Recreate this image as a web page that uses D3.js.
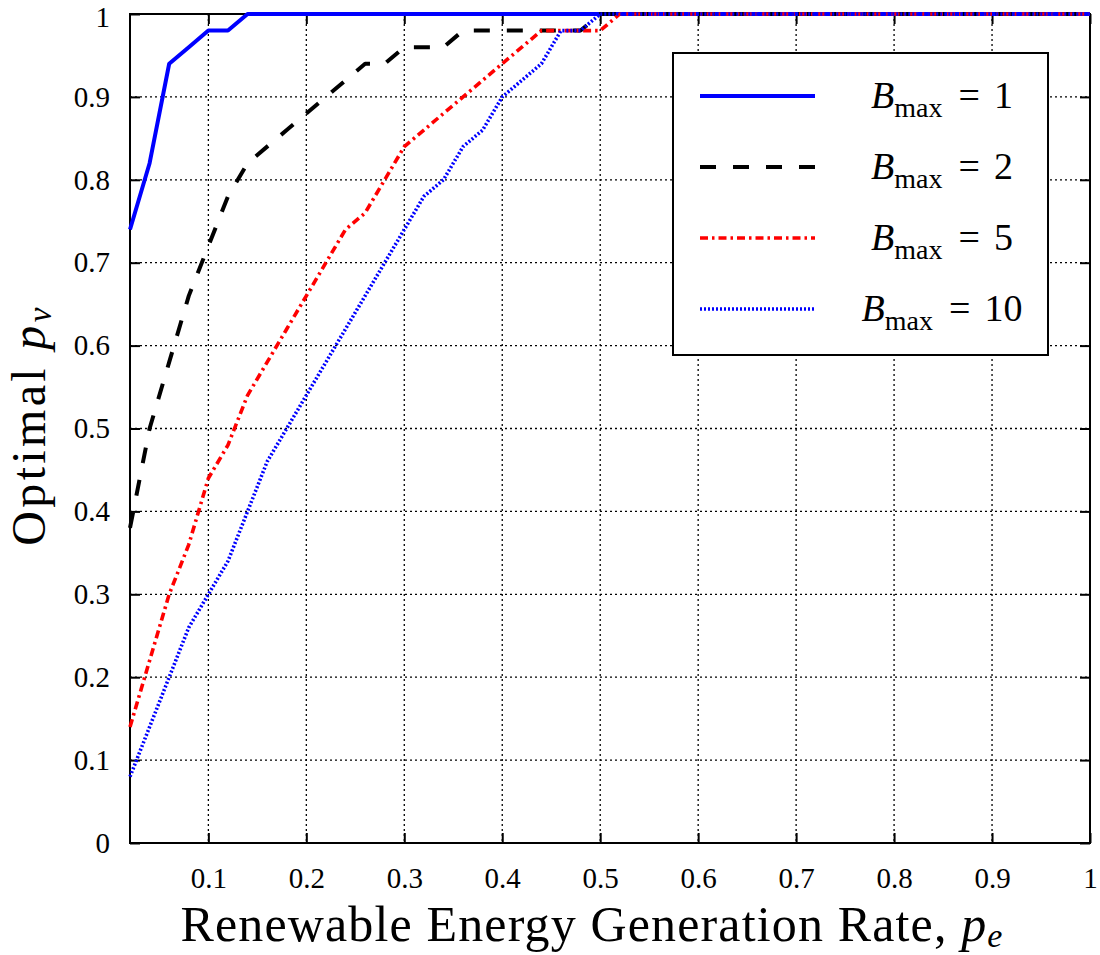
<!DOCTYPE html>
<html>
<head>
<meta charset="utf-8">
<script src="https://cdn.jsdelivr.net/npm/d3@7"></script>
<style>
  html, body { margin: 0; padding: 0; background: #fff; }
  svg { display: block; }
  text { font-family: "Liberation Serif", "DejaVu Serif", serif; fill: #000; }
</style>
</head>
<body>
<svg id="chart" width="1100" height="955"></svg>
<script>
// ---------------- data ----------------
const pe = [0.02,0.04,0.06,0.08,0.10,0.12,0.14,0.16,0.18,0.20,
            0.22,0.24,0.26,0.28,0.30,0.32,0.34,0.36,0.38,0.40,
            0.42,0.44,0.46,0.48,0.50,0.52,0.54,0.56,0.58,0.60,
            0.62,0.64,0.66,0.68,0.70,0.72,0.74,0.76,0.78,0.80,
            0.82,0.84,0.86,0.88,0.90,0.92,0.94,0.96,0.98,1.00];

const bmax1 = [0.74,0.82,0.94,0.96,0.98,0.98,1,1,1,1,
               1,1,1,1,1,1,1,1,1,1,
               1,1,1,1,1,1,1,1,1,1,
               1,1,1,1,1,1,1,1,1,1,
               1,1,1,1,1,1,1,1,1,1];

const bmax2 = [0.38,0.50,0.58,0.66,0.72,0.78,0.82,0.84,0.86,0.88,
               0.90,0.92,0.94,0.94,0.96,0.96,0.96,0.98,0.98,0.98,
               0.98,0.98,0.98,0.98,1,1,1,1,1,1,
               1,1,1,1,1,1,1,1,1,1,
               1,1,1,1,1,1,1,1,1,1];

const bmax5 = [0.14,0.22,0.30,0.36,0.44,0.48,0.54,0.58,0.62,0.66,
               0.70,0.74,0.76,0.80,0.84,0.86,0.88,0.90,0.92,0.94,
               0.96,0.98,0.98,0.98,0.98,1,1,1,1,1,
               1,1,1,1,1,1,1,1,1,1,
               1,1,1,1,1,1,1,1,1,1];

const bmax10 = [0.08,0.14,0.20,0.26,0.30,0.34,0.40,0.46,0.50,0.54,
                0.58,0.62,0.66,0.70,0.74,0.78,0.80,0.84,0.86,0.90,
                0.92,0.94,0.98,0.98,1,1,1,1,1,1,
                1,1,1,1,1,1,1,1,1,1,
                1,1,1,1,1,1,1,1,1,1];

const seriesNames = ["1", "2", "5", "10"];
const xTicks = [0.1,0.2,0.3,0.4,0.5,0.6,0.7,0.8,0.9,1];
const yTicks = [0,0.1,0.2,0.3,0.4,0.5,0.6,0.7,0.8,0.9,1];
const xTitle = "Renewable Energy Generation Rate, ";
const yTitle = "Optimal ";

// ---------------- styles ----------------
const seriesData = [bmax1, bmax2, bmax5, bmax10];
const styles = [
  { color: "#0000ff", width: 4,   dash: null },
  { color: "#000000", width: 4,   dash: "16,17" },
  { color: "#ff0000", width: 3.6, dash: "8,4,2.5,4" },
  { color: "#0000ff", width: 3.6, dash: "2,2" }
];

// ---------------- layout ----------------
const mL = 130, mR = 1090, mT = 14, mB = 843;
const svg = d3.select("#chart");

const x = d3.scaleLinear().domain([0.02, 1]).range([mL, mR]);
const y = d3.scaleLinear().domain([0, 1]).range([mB, mT]);

// grid
const grid = svg.append("g");
grid.selectAll("line.vg").data(xTicks.filter(d => d < 1)).enter().append("line")
  .attr("x1", d => x(d)).attr("x2", d => x(d))
  .attr("y1", mT).attr("y2", mB)
  .attr("stroke", "#000").attr("stroke-width", 1.3).attr("stroke-dasharray", "2,3");
grid.selectAll("line.hg").data(yTicks.filter(d => d > 0 && d < 1)).enter().append("line")
  .attr("x1", mL).attr("x2", mR)
  .attr("y1", d => y(d)).attr("y2", d => y(d))
  .attr("stroke", "#000").attr("stroke-width", 1.3).attr("stroke-dasharray", "2,3");

// axes with inward ticks
const tickLen = 10;
const xAxis = d3.axisBottom(x).tickValues(xTicks).tickSize(-tickLen).tickPadding(24)
  .tickFormat(d => d === 1 ? "1" : d3.format(".1f")(d));
const yAxis = d3.axisLeft(y).tickValues(yTicks).tickSize(-tickLen).tickPadding(20)
  .tickFormat(d => (d === 0 || d === 1) ? String(d) : d3.format(".1f")(d));

const gx = svg.append("g").attr("transform", `translate(0,${mB})`).call(xAxis);
const gy = svg.append("g").attr("transform", `translate(${mL},0)`).call(yAxis);
[gx, gy].forEach(g => {
  g.select(".domain").remove();
  g.selectAll(".tick line").attr("stroke", "#000").attr("stroke-width", 2);
  g.selectAll(".tick text").attr("font-size", 29)
    .attr("font-family", "'Liberation Serif', serif").attr("fill", "#000");
});
// keep the top label inside the picture
gy.selectAll(".tick").filter(d => d === 1).select("text").attr("dy", "0.42em");

// mirrored ticks at top and right
svg.append("g").attr("transform", `translate(0,${mT})`)
  .call(d3.axisTop(x).tickValues(xTicks).tickSize(-tickLen).tickFormat(""))
  .call(g => { g.select(".domain").remove(); g.selectAll(".tick line").attr("stroke", "#000").attr("stroke-width", 2); });
svg.append("g").attr("transform", `translate(${mR},0)`)
  .call(d3.axisRight(y).tickValues(yTicks).tickSize(-tickLen).tickFormat(""))
  .call(g => { g.select(".domain").remove(); g.selectAll(".tick line").attr("stroke", "#000").attr("stroke-width", 2); });

// frame
svg.append("rect").attr("x", mL).attr("y", mT)
  .attr("width", mR - mL).attr("height", mB - mT)
  .attr("fill", "none").attr("stroke", "#000").attr("stroke-width", 2);

// lines
const line = d3.line().x(d => x(d[0])).y(d => y(d[1]));
const plot = svg.append("g");
seriesData.forEach((vals, i) => {
  const st = styles[i];
  plot.append("path")
    .datum(pe.map((p, k) => [p, vals[k]]))
    .attr("d", line)
    .attr("fill", "none")
    .attr("stroke", st.color)
    .attr("stroke-width", st.width)
    .attr("stroke-dasharray", st.dash)
    .attr("stroke-linejoin", "round");
});

// legend
const legend = svg.append("g");
legend.append("rect").attr("x", 673).attr("y", 53).attr("width", 375).attr("height", 302)
  .attr("fill", "#fff").attr("stroke", "#000").attr("stroke-width", 2);
const rowY = [96, 167, 238, 309];
seriesNames.forEach((name, i) => {
  const st = styles[i];
  legend.append("line").attr("x1", 700).attr("x2", 815)
    .attr("y1", rowY[i]).attr("y2", rowY[i])
    .attr("stroke", st.color).attr("stroke-width", st.width)
    .attr("stroke-dasharray", st.dash);
  const t = legend.append("text").attr("x", 942).attr("y", rowY[i] + 12)
    .attr("text-anchor", "middle").attr("font-size", 38);
  t.append("tspan").attr("font-style", "italic").text("B");
  t.append("tspan").attr("font-size", 28).attr("dy", 9).text("max");
  t.append("tspan").attr("dy", -9).attr("dx", 16).text("=");
  t.append("tspan").attr("dx", 14).text(name);
});

// axis titles (spaced to fill the reference extent)
function fit(sel, target) {
  const w = sel.node().getComputedTextLength();
  const n = sel.text().length;
  if (n > 1) sel.attr("letter-spacing", (target - w) / (n - 1));
}
const xt = svg.append("text").attr("x", 592).attr("y", 941)
  .attr("text-anchor", "middle").attr("font-size", 50);
xt.append("tspan").text(xTitle);
xt.append("tspan").attr("font-style", "italic").text("p");
xt.append("tspan").attr("font-style", "italic").attr("font-size", 34).attr("dy", 6).text("e");
fit(xt, 822);

const yt = svg.append("text").attr("transform", "translate(45,425) rotate(-90)")
  .attr("text-anchor", "middle").attr("font-size", 48);
yt.append("tspan").text(yTitle);
yt.append("tspan").attr("font-style", "italic").text("p");
yt.append("tspan").attr("font-style", "italic").attr("font-size", 33).attr("dy", 6).text("v");
fit(yt, 238);
</script>
</body>
</html>
